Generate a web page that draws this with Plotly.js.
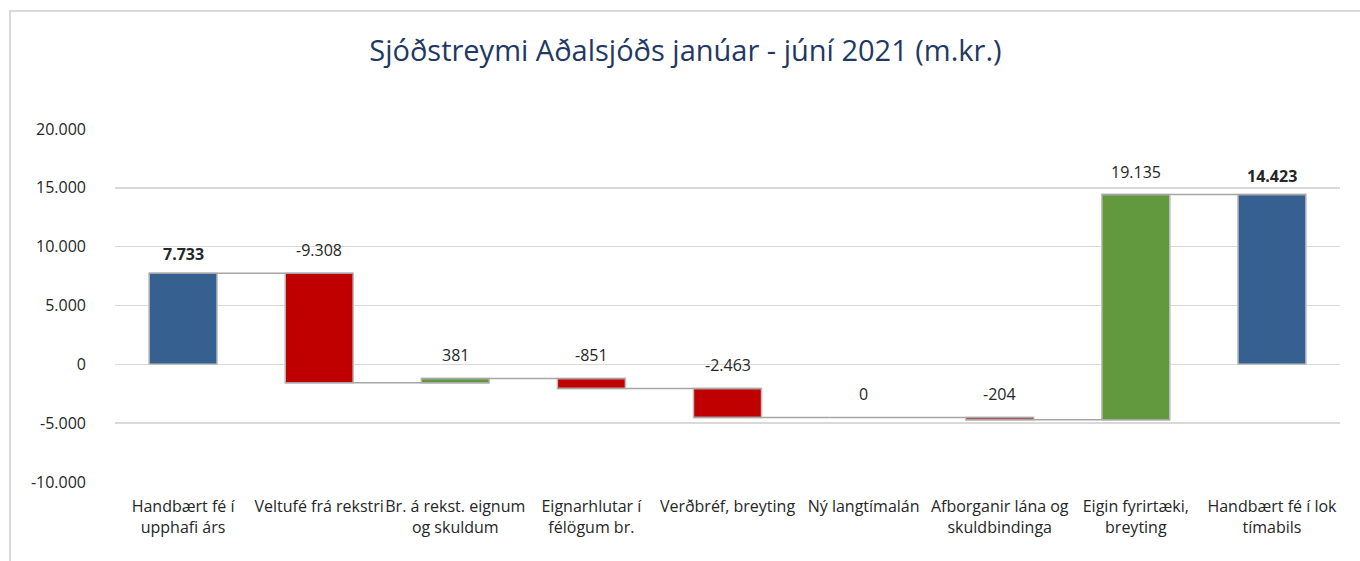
<!DOCTYPE html>
<html>
<head>
<meta charset="utf-8">
<script src="https://cdn.plot.ly/plotly-3.0.1.min.js"></script>
<style>
html,body{margin:0;padding:0;background:#fff;}
#frame{position:absolute;left:9px;top:10px;width:1351px;height:551px;border-left:2px solid #d9d9d9;border-top:2px solid #d9d9d9;}
#chart{position:absolute;left:0;top:0;width:1360px;height:561px;}
</style>
</head>
<body>
<div id="frame"></div>
<div id="chart"></div>
<script>
const categories = [
  "Handbært fé í<br>upphafi árs",
  "Veltufé frá rekstri",
  "Br. á rekst. eignum<br>og skuldum",
  "Eignarhlutar í<br>félögum br.",
  "Verðbréf, breyting",
  "Ný langtímalán",
  "Afborganir lána og<br>skuldbindinga",
  "Eigin fyrirtæki,<br>breyting",
  "Handbært fé í lok<br>tímabils"
];
const values = [7733, -9308, 381, -851, -2463, 0, -204, 19135, 14423];
const measures = ["absolute", "relative", "relative", "relative", "relative", "relative", "relative", "relative", "total"];
const labels = ["7.733", "-9.308", "381", "-851", "-2.463", "0", "-204", "19.135", "14.423"];
const boldLabels = [true, false, false, false, false, false, false, false, true];

const font = "Open Sans, sans-serif";

// label positions from the running total
const annotations = [];
let running = 0;
for (let i = 0; i < values.length; i++) {
  let lo, hi;
  if (measures[i] === "absolute") { running = values[i]; lo = Math.min(0, running); hi = Math.max(0, running); }
  else if (measures[i] === "total") { lo = Math.min(0, running); hi = Math.max(0, running); }
  else { const prev = running; running += values[i]; lo = Math.min(prev, running); hi = Math.max(prev, running); }
  annotations.push({
    x: categories[i], y: hi, xref: "x", yref: "y",
    text: boldLabels[i] ? "<b>" + labels[i] + "</b>" : labels[i],
    showarrow: false, yanchor: "bottom", yshift: boldLabels[i] ? 6 : 10,
    font: {family: font, size: 16, color: "#262626"}
  });
}

const trace = {
  type: "waterfall",
  x: categories,
  y: values,
  measure: measures,
  textposition: "none",
  width: 0.5,
  increasing: {marker: {color: "#62993e", line: {color: "#bfbfbf", width: 1.5}}},
  decreasing: {marker: {color: "#c00000", line: {color: "#bfbfbf", width: 1.5}}},
  totals: {marker: {color: "#35608f", line: {color: "#bfbfbf", width: 1.5}}},
  connector: {mode: "spanning", line: {color: "#a6a6a6", width: 1.5}},
  hoverinfo: "skip"
};

const layout = {
  width: 1360, height: 561,
  paper_bgcolor: "rgba(0,0,0,0)",
  plot_bgcolor: "rgba(0,0,0,0)",
  margin: {l: 115, r: 20, t: 129, b: 79},
  showlegend: false,
  title: {
    text: "Sjóðstreymi Aðalsjóðs janúar - júní 2021 (m.kr.)",
    font: {family: font, size: 29, color: "#1f3864"},
    x: 0.504, xanchor: "center", xref: "container",
    y: 1 - 51/561, yanchor: "middle", yref: "container"
  },
  xaxis: {
    type: "category",
    tickfont: {family: font, size: 16, color: "#262626"},
    showgrid: false, showline: false, ticks: "",
    tickangle: 0,
    ticklabelstandoff: 13
  },
  yaxis: {
    range: [-10000, 20000],
    tickvals: [-10000, -5000, 0, 5000, 10000, 15000, 20000],
    ticktext: ["-10.000", "-5.000", "0", "5.000", "10.000", "15.000", "20.000"],
    tickfont: {family: font, size: 16, color: "#262626"},
    showgrid: true, gridcolor: "#d9d9d9", gridwidth: 1.5,
    zeroline: false, showline: false, ticks: "",
    ticklabelstandoff: 28
  },
  annotations: annotations
};

Plotly.newPlot("chart", [trace], layout, {displayModeBar: false, staticPlot: true});
</script>
</body>
</html>
